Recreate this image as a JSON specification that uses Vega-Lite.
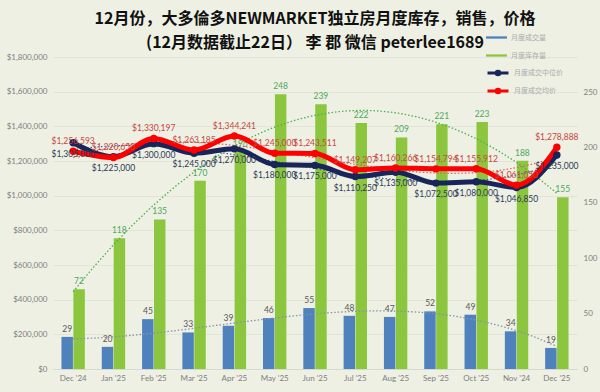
{
  "$schema": "https://vega.github.io/schema/vega-lite/v6.json",
  "width": 524,
  "height": 312,
  "autosize": {"type": "none"},
  "padding": {"left": 53, "top": 57, "right": 23, "bottom": 23},
  "background": "#edf0e3",
  "config": {"view": {"stroke": null}, "font": "Lato"},
  "title": {
    "text": ["12月份，大多倫多NEWMARKET独立房月度库存，销售，价格", "(12月数据截止22日） 李 郡 微信 peterlee1689"],
    "anchor": "middle",
    "font": "Noto Sans CJK SC",
    "fontSize": 16,
    "fontWeight": "bold",
    "color": "#111111",
    "lineHeight": 24,
    "offset": 5,
    "dy": 24
  },
  "datasets": {
    "counts": [
      {"month": "Dec '24", "series": "月度成交量", "count": 29},
      {"month": "Dec '24", "series": "月度库存量", "count": 72},
      {"month": "Jan '25", "series": "月度成交量", "count": 20},
      {"month": "Jan '25", "series": "月度库存量", "count": 118},
      {"month": "Feb '25", "series": "月度成交量", "count": 45},
      {"month": "Feb '25", "series": "月度库存量", "count": 135},
      {"month": "Mar '25", "series": "月度成交量", "count": 33},
      {"month": "Mar '25", "series": "月度库存量", "count": 170},
      {"month": "Apr '25", "series": "月度成交量", "count": 39},
      {"month": "Apr '25", "series": "月度库存量", "count": 196},
      {"month": "May '25", "series": "月度成交量", "count": 46},
      {"month": "May '25", "series": "月度库存量", "count": 248},
      {"month": "Jun '25", "series": "月度成交量", "count": 55},
      {"month": "Jun '25", "series": "月度库存量", "count": 239},
      {"month": "Jul '25", "series": "月度成交量", "count": 48},
      {"month": "Jul '25", "series": "月度库存量", "count": 222},
      {"month": "Aug '25", "series": "月度成交量", "count": 47},
      {"month": "Aug '25", "series": "月度库存量", "count": 209},
      {"month": "Sep '25", "series": "月度成交量", "count": 52},
      {"month": "Sep '25", "series": "月度库存量", "count": 221},
      {"month": "Oct '25", "series": "月度成交量", "count": 49},
      {"month": "Oct '25", "series": "月度库存量", "count": 223},
      {"month": "Nov '24", "series": "月度成交量", "count": 34},
      {"month": "Nov '24", "series": "月度库存量", "count": 188},
      {"month": "Dec '25", "series": "月度成交量", "count": 19},
      {"month": "Dec '25", "series": "月度库存量", "count": 155}
    ],
    "prices": [
      {"month": "Dec '24", "series": "月度成交中位价", "price": 1305000},
      {"month": "Dec '24", "series": "月度成交均价", "price": 1256593},
      {"month": "Jan '25", "series": "月度成交中位价", "price": 1225000},
      {"month": "Jan '25", "series": "月度成交均价", "price": 1220650},
      {"month": "Feb '25", "series": "月度成交中位价", "price": 1300000},
      {"month": "Feb '25", "series": "月度成交均价", "price": 1330197},
      {"month": "Mar '25", "series": "月度成交中位价", "price": 1245000},
      {"month": "Mar '25", "series": "月度成交均价", "price": 1263185},
      {"month": "Apr '25", "series": "月度成交中位价", "price": 1270000},
      {"month": "Apr '25", "series": "月度成交均价", "price": 1344241},
      {"month": "May '25", "series": "月度成交中位价", "price": 1180000},
      {"month": "May '25", "series": "月度成交均价", "price": 1245000},
      {"month": "Jun '25", "series": "月度成交中位价", "price": 1175000},
      {"month": "Jun '25", "series": "月度成交均价", "price": 1243511},
      {"month": "Jul '25", "series": "月度成交中位价", "price": 1110250},
      {"month": "Jul '25", "series": "月度成交均价", "price": 1149207},
      {"month": "Aug '25", "series": "月度成交中位价", "price": 1135000},
      {"month": "Aug '25", "series": "月度成交均价", "price": 1160266},
      {"month": "Sep '25", "series": "月度成交中位价", "price": 1072500},
      {"month": "Sep '25", "series": "月度成交均价", "price": 1154794},
      {"month": "Oct '25", "series": "月度成交中位价", "price": 1080000},
      {"month": "Oct '25", "series": "月度成交均价", "price": 1155912},
      {"month": "Nov '24", "series": "月度成交中位价", "price": 1046850},
      {"month": "Nov '24", "series": "月度成交均价", "price": 1061050},
      {"month": "Dec '25", "series": "月度成交中位价", "price": 1235000},
      {"month": "Dec '25", "series": "月度成交均价", "price": 1278888}
    ]
  },
  "layer": [
    {
      "data": {"name": "counts"},
      "mark": {"type": "bar"},
      "encoding": {
        "x": {"field": "month", "type": "nominal", "sort": null, "scale": {"paddingInner": 0.42, "paddingOuter": 0.21},
          "axis": {"title": null, "labelAngle": 0, "ticks": false, "domainColor": "#d6d9cf", "labelColor": "#7f7f7f", "labelFontSize": 8, "labelPadding": 5, "labelFont": "Lato"}},
        "xOffset": {"field": "series", "type": "nominal", "sort": null, "scale": {"domain": ["月度成交量", "月度库存量"], "paddingInner": 0.04}},
        "y": {"field": "count", "type": "quantitative", "scale": {"domain": [0, 281.6], "nice": false},
          "axis": {"orient": "right", "title": null, "values": [0, 50, 100, 150, 200, 250], "ticks": false, "domain": false, "grid": false, "labelColor": "#7f7f7f", "labelFontSize": 8, "labelPadding": 6, "labelFont": "Lato"}},
        "color": {"field": "series", "type": "nominal", "sort": null, "scale": {"domain": ["月度成交量", "月度库存量"], "range": ["#4f81bd", "#8cc63e"]},
          "legend": {"orient": "none", "legendX": 438, "legendY": -25, "title": null, "symbolType": "M-2,-0.22H2V0.22H-2Z", "symbolSize": 110, "symbolStrokeWidth": 0, "labelFont": "Noto Sans CJK SC", "labelFontSize": 7, "labelColor": "#ababab", "labelOffset": 9, "rowPadding": 9, "padding": 0}}
      }
    },
    {
      "data": {"name": "counts"},
      "transform": [{"filter": "datum.series == '月度成交量'"}],
      "mark": {"type": "text", "baseline": "bottom", "dy": -3, "fontSize": 8.5, "color": "#595959", "font": "Lato"},
      "encoding": {
        "x": {"field": "month", "type": "nominal", "sort": null, "scale": {"paddingInner": 0.42, "paddingOuter": 0.21}, "axis": null},
        "xOffset": {"field": "series", "type": "nominal", "sort": null, "scale": {"domain": ["月度成交量", "月度库存量"], "paddingInner": 0.04}},
        "y": {"field": "count", "type": "quantitative", "scale": {"domain": [0, 281.6], "nice": false}, "axis": null},
        "text": {"field": "count", "type": "quantitative"}
      }
    },
    {
      "data": {"name": "counts"},
      "transform": [{"filter": "datum.series == '月度库存量'"}],
      "mark": {"type": "text", "baseline": "bottom", "dy": -3, "fontSize": 8.5, "color": "#4da85e", "font": "Lato"},
      "encoding": {
        "x": {"field": "month", "type": "nominal", "sort": null, "scale": {"paddingInner": 0.42, "paddingOuter": 0.21}, "axis": null},
        "xOffset": {"field": "series", "type": "nominal", "sort": null, "scale": {"domain": ["月度成交量", "月度库存量"], "paddingInner": 0.04}},
        "y": {"field": "count", "type": "quantitative", "scale": {"domain": [0, 281.6], "nice": false}, "axis": null},
        "text": {"field": "count", "type": "quantitative"}
      }
    },
    {
      "data": {"name": "counts"},
      "transform": [
        {"window": [{"op": "row_number", "as": "i"}], "groupby": ["series"]},
        {"regression": "count", "on": "i", "groupby": ["series"], "method": "poly", "order": 3}
      ],
      "mark": {"type": "line", "strokeDash": [1.5, 2], "strokeWidth": 1.3, "clip": true},
      "encoding": {
        "x": {"field": "i", "type": "quantitative", "scale": {"domain": [0.5, 13.5], "nice": false, "zero": false}, "axis": null},
        "y": {"field": "count", "type": "quantitative", "scale": {"domain": [0, 281.6], "nice": false}, "axis": null},
        "stroke": {"field": "series", "type": "nominal", "scale": {"domain": ["月度成交量", "月度库存量"], "range": ["#8393aa", "#4caf50"]}, "legend": null}
      }
    },
    {
      "data": {"name": "prices"},
      "transform": [
        {"window": [{"op": "row_number", "as": "i"}], "groupby": ["series"]},
        {"regression": "price", "on": "i", "groupby": ["series"], "method": "poly", "order": 3}
      ],
      "mark": {"type": "line", "strokeDash": [1.5, 2], "strokeWidth": 1.2, "clip": true},
      "encoding": {
        "x": {"field": "i", "type": "quantitative", "scale": {"domain": [0.5, 13.5], "nice": false, "zero": false}, "axis": null},
        "y": {"field": "price", "type": "quantitative", "scale": {"domain": [0, 1800000], "nice": false}, "axis": null},
        "stroke": {"field": "series", "type": "nominal", "scale": {"domain": ["月度成交中位价", "月度成交均价"], "range": ["#4a5a8a", "#e05a5a"]}, "legend": null}
      }
    },
    {
      "data": {"name": "prices"},
      "mark": {"type": "line", "interpolate": "monotone", "strokeWidth": 5},
      "encoding": {
        "x": {"field": "month", "type": "nominal", "sort": null, "scale": {"paddingInner": 0.42, "paddingOuter": 0.21}, "axis": null},
        "y": {"field": "price", "type": "quantitative", "scale": {"domain": [0, 1800000], "nice": false},
          "axis": {"orient": "left", "title": null, "values": [0, 200000, 400000, 600000, 800000, 1000000, 1200000, 1400000, 1600000, 1800000], "format": "$,.0f", "ticks": false, "domain": false, "grid": true, "gridColor": "#dde1d3", "gridWidth": 0.8, "labelColor": "#7f7f7f", "labelFontSize": 8, "labelPadding": 6, "labelFont": "Lato"}},
        "stroke": {"field": "series", "type": "nominal", "sort": null, "scale": {"domain": ["月度成交中位价", "月度成交均价"], "range": ["#17255a", "#ff0000"]},
          "legend": {"orient": "none", "legendX": 438, "legendY": 9, "title": null, "symbolType": "M-2,0H2M-0.35,0A0.35,0.35 0 1,0 0.35,0A0.35,0.35 0 1,0 -0.35,0", "symbolSize": 110, "symbolStrokeWidth": 3, "labelFont": "Noto Sans CJK SC", "labelFontSize": 7, "labelColor": "#ababab", "labelOffset": 9, "rowPadding": 2, "padding": 0}}
      }
    },
    {
      "data": {"name": "prices"},
      "mark": {"type": "point", "filled": true, "size": 55, "opacity": 1},
      "encoding": {
        "x": {"field": "month", "type": "nominal", "sort": null, "scale": {"paddingInner": 0.42, "paddingOuter": 0.21}, "axis": null},
        "y": {"field": "price", "type": "quantitative", "scale": {"domain": [0, 1800000], "nice": false}, "axis": null},
        "color": {"field": "series", "type": "nominal", "sort": null, "scale": {"domain": ["月度成交中位价", "月度成交均价"], "range": ["#17255a", "#ff0000"]}, "legend": null}
      }
    },
    {
      "data": {"name": "prices"},
      "transform": [{"filter": "datum.series == '月度成交中位价'"}],
      "mark": {"type": "text", "baseline": "middle", "dy": 11, "fontSize": 8.5, "color": "#2e3b58", "font": "Lato"},
      "encoding": {
        "x": {"field": "month", "type": "nominal", "sort": null, "scale": {"paddingInner": 0.42, "paddingOuter": 0.21}, "axis": null},
        "y": {"field": "price", "type": "quantitative", "scale": {"domain": [0, 1800000], "nice": false}, "axis": null},
        "text": {"field": "price", "type": "quantitative", "format": "$,.0f"}
      }
    },
    {
      "data": {"name": "prices"},
      "transform": [{"filter": "datum.series == '月度成交均价'"}],
      "mark": {"type": "text", "baseline": "middle", "dy": -10, "fontSize": 8.5, "color": "#c8463f", "font": "Lato"},
      "encoding": {
        "x": {"field": "month", "type": "nominal", "sort": null, "scale": {"paddingInner": 0.42, "paddingOuter": 0.21}, "axis": null},
        "y": {"field": "price", "type": "quantitative", "scale": {"domain": [0, 1800000], "nice": false}, "axis": null},
        "text": {"field": "price", "type": "quantitative", "format": "$,.0f"}
      }
    }
  ],
  "resolve": {"scale": {"x": "independent", "y": "independent", "color": "independent", "stroke": "independent", "xOffset": "independent"}}
}
